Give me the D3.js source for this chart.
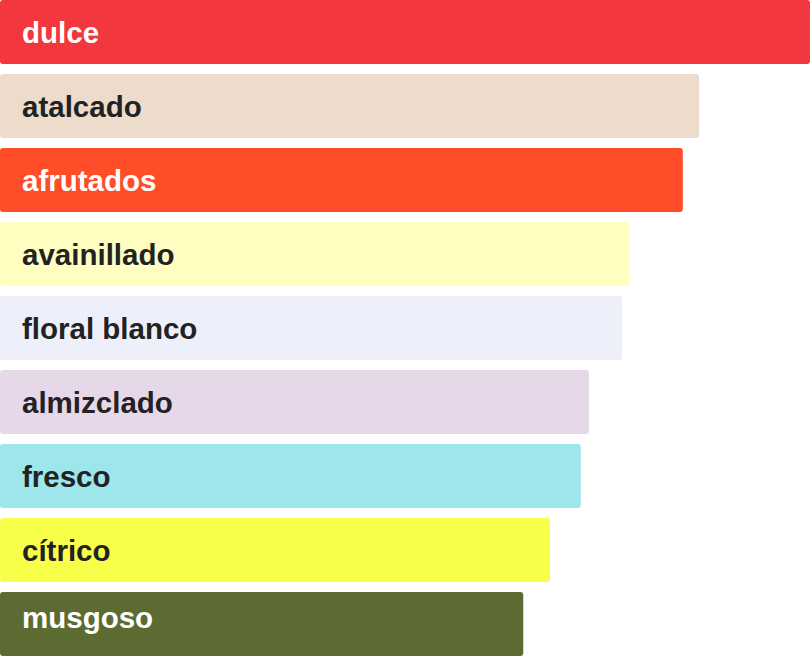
<!DOCTYPE html>
<html>
<head>
<meta charset="utf-8">
<script src="https://cdn.jsdelivr.net/npm/d3@7"></script>
<style>
  html, body { margin: 0; padding: 0; background: #fff; }
  svg { display: block; }
</style>
</head>
<body>
<div id="chart"></div>
<script>
// notes, strongest first
var categories = ["dulce", "atalcado", "afrutados", "avainillado", "floral blanco",
                  "almizclado", "fresco", "cítrico", "musgoso"];
var values = [100, 86.3, 84.3, 77.7, 76.8, 72.7, 71.7, 67.9, 64.6];
var colors = ["#f2373e", "#eddccc", "#ff4d29", "#fffdc0", "#edf0fa",
              "#e6d8e9", "#9de6ec", "#f8ff4a", "#5c6b31"];
var darkBars = ["dulce", "afrutados", "musgoso"];

var width = 810,
    height = 656;

var svg = d3.select("#chart").append("svg")
    .attr("width", width)
    .attr("height", height);

var x = d3.scaleLinear()
    .domain([0, d3.max(values)])
    .range([0, width]);

var y = d3.scaleBand()
    .domain(categories)
    .range([0, height])
    .paddingInner(10 / 74)
    .paddingOuter(0);

var rows = svg.selectAll("g.row")
    .data(categories)
    .enter().append("g")
    .attr("class", "row")
    .attr("transform", function(d) { return "translate(0," + y(d) + ")"; });

rows.append("rect")
    .attr("x", 0)
    .attr("width", function(d, i) { return x(values[i]); })
    .attr("height", y.bandwidth())
    .attr("rx", 3)
    .attr("ry", 3)
    .style("fill", function(d, i) { return colors[i]; });

//labels sit inside the bar, baseline kept clear of the bottom edge
rows.append("text")
    .attr("x", 22)
    .attr("y", function(d) {
        var base = y.bandwidth() / 2 + 10.6;
        return Math.min(base, height - 27.7 - y(d));
    })
    .style("font-family", "'Liberation Sans', Arial, sans-serif")
    .style("font-weight", "bold")
    .style("font-size", "29.5px")
    .style("fill", function(d) { return darkBars.indexOf(d) >= 0 ? "#ffffff" : "#222222"; })
    .text(function(d) { return d; });
</script>
</body>
</html>
